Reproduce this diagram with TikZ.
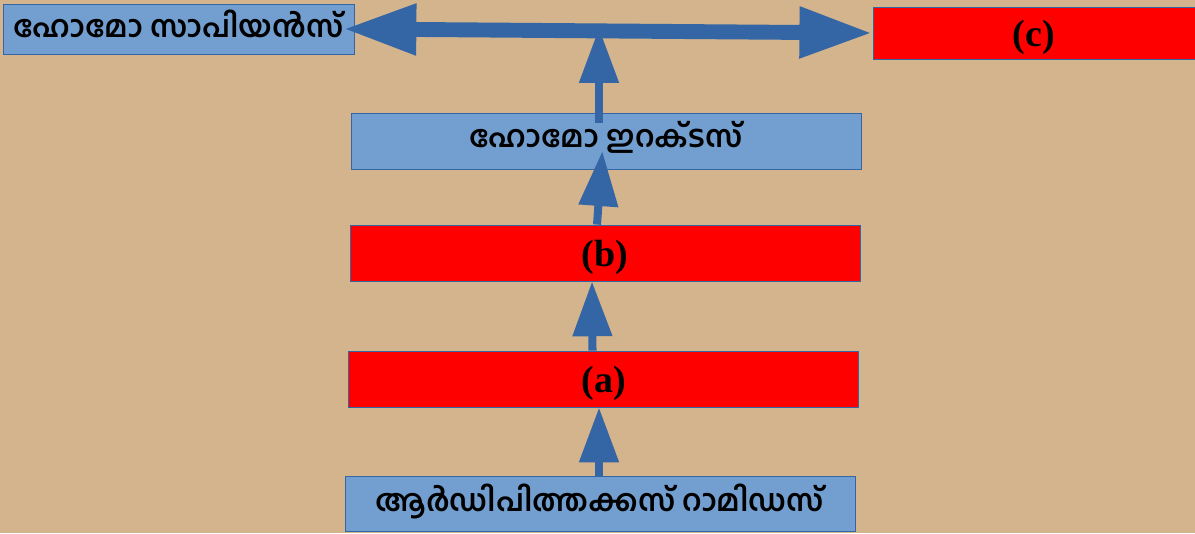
\documentclass[tikz,border=0pt]{standalone}
\usepackage{fontspec}
\setmainfont{Liberation Serif}
\newfontfamily\malfont[Script=Malayalam]{Hind Kochi}
\usepackage{xcolor}
\usetikzlibrary{positioning, arrows.meta, calc}
\definecolor{sandbg}{RGB}{212,180,140}
\definecolor{boxblue}{RGB}{114,159,207}
\definecolor{edgeblue}{RGB}{52,101,164}
\tikzset{
  namebox/.style={
    rectangle,
    draw=edgeblue,
    fill=boxblue,
    line width=0.6pt,
    minimum height=1.4cm,
    minimum width=12.75cm,
    align=center,
    font=\malfont\bfseries\fontsize{21.5}{24}\selectfont,
    inner sep=0pt
  },
  blankbox/.style={
    rectangle,
    draw=edgeblue,
    fill=red,
    line width=0.6pt,
    minimum height=1.4cm,
    minimum width=12.75cm,
    text height=22pt,
    text depth=3pt,
    align=center,
    font=\bfseries\fontsize{27}{30}\selectfont,
    inner sep=0pt
  },
  uparrow/.style={
    draw=edgeblue,
    line width=5.7pt,
    -{Triangle[width=27pt,length=39pt]}
  },
  sidearrow/.style={
    draw=edgeblue,
    line width=10.6pt,
    {Triangle[width=34pt,length=52pt]}-{Triangle[width=34pt,length=52pt]}
  }
}
\begin{document}
\begin{tikzpicture}[x=0.025cm, y=-0.025cm]
  \fill[sandbg] (0,0) rectangle (1195,533);
  \useasboundingbox (0,0) rectangle (1195,533);
  % boxes
  \node[namebox, minimum width=8.775cm, minimum height=1.25cm] (sap) at (178.5,29)
    {\raisebox{7pt}{ഹോമോ സാപിയൻസ്}};
  \node[blankbox, minimum width=8.05cm, minimum height=1.3cm] (c) at (1034,33) {(c)};
  \node[namebox] (ere) at (606,141) {\raisebox{10pt}{ഹോമോ ഇറക്ടസ്}};
  \node[blankbox] (b) at (605,253) {(b)};
  \node[blankbox] (a) at (603.5,379) {(a)};
  \node[namebox, minimum height=1.375cm] (ardi) at (600,503.5)
    {\raisebox{8.5pt}{ആർഡിപിത്തക്കസ് റാമിഡസ്}};
  \coordinate (hub) at (599,28);
  % arrows
  \draw[uparrow] ($(ardi.north)+(-1,0)$) -- ($(a.south)+(-4.5,0)$);
  \draw[uparrow] ($(a.north)+(-11,0)$) -- ($(b.south)+(-13,0)$);
  \draw[uparrow, shorten >=-13pt] ($(b.north)+(-8,0)$) -- ($(ere.south)+(-5,0)$);
  \draw[uparrow] ($(ere.north)+(-7,10)$) -- (hub);
  \draw[sidearrow, shorten <=-8pt] (sap.east) -- (c.west);
\end{tikzpicture}
\end{document}
